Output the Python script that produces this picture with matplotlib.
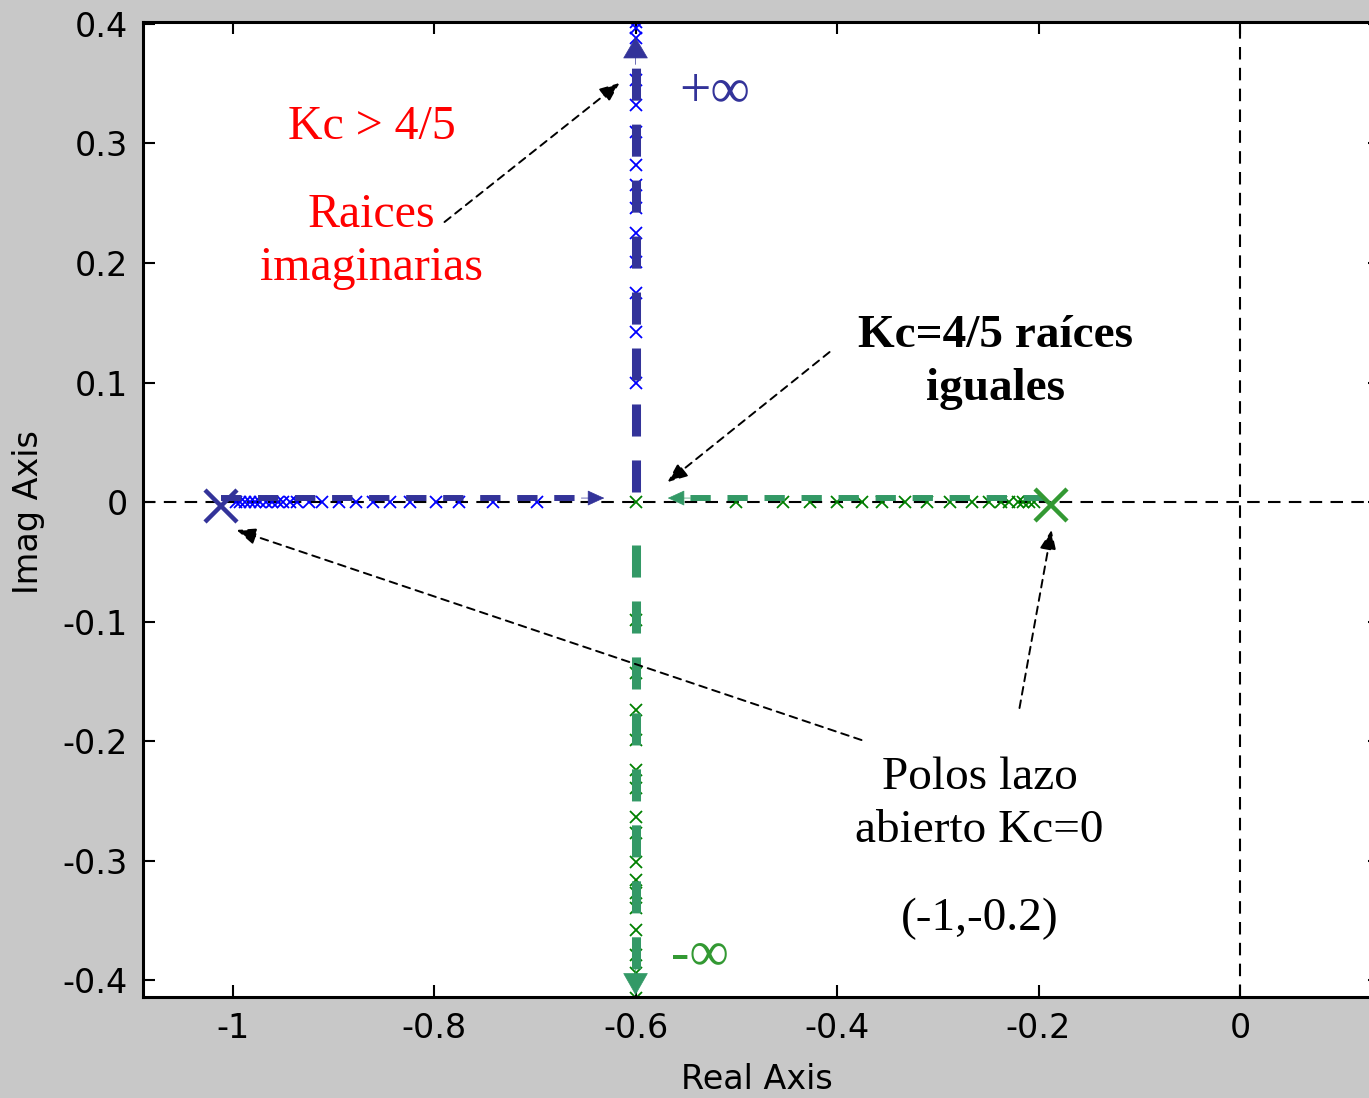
import matplotlib
matplotlib.use("Agg")
import matplotlib.pyplot as plt

# Root locus points
blue_re = [-0.997, -0.993, -0.988, -0.983, -0.978, -0.973, -0.967, -0.961, -0.955, -0.950,
           -0.943, -0.936, -0.924, -0.911, -0.894, -0.877, -0.861, -0.844, -0.824,
           -0.798, -0.775, -0.741, -0.698]
blue_im = [0.0996, 0.142, 0.175, 0.201, 0.225, 0.246, 0.265, 0.282, 0.310, 0.332,
           0.353, 0.388, 0.397, 0.402]
green_re = [-0.600, -0.500, -0.454, -0.427, -0.400, -0.375, -0.355, -0.333, -0.311,
            -0.288, -0.266, -0.249, -0.237, -0.229, -0.220, -0.215, -0.209, -0.205]
green_im = [-0.0987, -0.143, -0.174, -0.199, -0.224, -0.239, -0.264, -0.277, -0.301,
            -0.316, -0.327, -0.340, -0.358, -0.379, -0.394, -0.415]
breakaway = -0.6
poles_re = [-1.011, -0.188]
poles_im = [-0.003, -0.0025]

xticks = [-1, -0.8, -0.6, -0.4, -0.2, 0]
yticks = [-0.4, -0.3, -0.2, -0.1, 0, 0.1, 0.2, 0.3, 0.4]

navy = "#333399"
sea = "#339966"
grn = "#339933"
serif = ["Liberation Serif", "DejaVu Serif"]

fig = plt.figure(figsize=(13.69, 10.98), dpi=100, facecolor="#c8c8c8")
ax = fig.add_axes([0.1045, 0.092, 0.9036, 0.888])
ax.set_xlim(-1.0888, 0.139)
ax.set_ylim(-0.4142, 0.4017)

# dashed reference axes
ax.axhline(0, color="black", lw=1.5, dashes=(6, 4), zorder=1)
ax.axvline(0, color="black", lw=1.5, dashes=(6, 4), zorder=1)

# locus markers
mk = dict(ms=8.5, mew=1.3, zorder=2)
ax.plot(blue_re, [0] * len(blue_re), "x", color="#0000ff", **mk)
ax.plot([breakaway] * len(blue_im), blue_im, "x", color="#0000ff", **mk)
ax.plot(green_re, [0] * len(green_re), "x", color="#008000", **mk)
ax.plot([breakaway] * len(green_im), green_im, "x", color="#008000", **mk)

# thick dashed direction arrows (start, tip, colour, width, head)
arrows = [((-1.011, 0.0033), (-0.631, 0.0033), navy, 4.3, (1.1, 0.5)),
          ((-0.600, 0.008), (-0.600, 0.389), navy, 6.5, (1.45, 0.85)),
          ((-0.195, 0.0033), (-0.568, 0.0033), sea, 4.3, (1.1, 0.5)),
          ((-0.600, -0.036), (-0.600, -0.4126), sea, 6.5, (1.5, 0.85))]
for (x0, y0), (x1, y1), c, w, (hl, hw) in arrows:
    dash = (3.4, 2.8) if w < 5 else (3.55, 2.65)
    # stop the shaft a bit short of the head
    fx = x0 + (x1 - x0) * 0.96
    fy = y0 + (y1 - y0) * 0.96
    ax.plot([x0, fx], [y0, fy], color=c, lw=w, dashes=dash, solid_capstyle="butt",
            dash_capstyle="butt", zorder=3)
    bx = x1 - (x1 - x0) * 0.06
    by = y1 - (y1 - y0) * 0.06
    ax.annotate("", xy=(x1, y1), xytext=(bx, by),
                arrowprops=dict(arrowstyle=f"-|>,head_length={hl},head_width={hw}",
                                mutation_scale=10, color=c, lw=0.5, shrinkA=0, shrinkB=0),
                zorder=4)

# open-loop poles
ax.plot(poles_re[:1], poles_im[:1], "x", color=navy, ms=23, mew=3.2, zorder=5)
ax.plot(poles_re[1:], poles_im[1:], "x", color=grn, ms=23, mew=3.2, zorder=5)

# black dashed pointer arrows
pointers = [((-0.7896, 0.2343), (-0.6159, 0.3506)),
            ((-0.4074, 0.1255), (-0.5682, 0.0167)),
            ((-0.3757, -0.1992), (-0.9960, -0.0234)),
            ((-0.2189, -0.1724), (-0.1871, -0.0234))]
for start, tip in pointers:
    ax.annotate("", xy=tip, xytext=start,
                arrowprops=dict(arrowstyle="-|>,head_length=1.2,head_width=0.5",
                                mutation_scale=10, color="black", lw=1.4,
                                linestyle=(0, (4, 3)), shrinkA=0, shrinkB=0),
                zorder=6)

# annotations
ax.text(-0.862, 0.314, "Kc > 4/5", color="red", family=serif, fontsize=34.5,
        ha="center", va="center")
ax.text(-0.862, 0.218, "Raices\nimaginarias", color="red", family=serif, fontsize=34.5,
        ha="center", va="center", linespacing=1.28)
ax.text(-0.2427, 0.117, "Kc=4/5 raíces\niguales", color="black", family=serif,
        fontsize=34, fontweight="bold", ha="center", va="center", linespacing=1.35)
ax.text(-0.5216, 0.343, "+∞", color=navy, family=serif, fontsize=40,
        ha="center", va="center")
ax.text(-0.5365, -0.379, "-∞", color=grn, family=serif, fontsize=40,
        ha="center", va="center")
ax.text(-0.2586, -0.253, "Polos lazo\nabierto Kc=0", color="black", family=serif,
        fontsize=34, ha="center", va="center", linespacing=1.33)
ax.text(-0.2586, -0.349, "(-1,-0.2)", color="black", family=serif, fontsize=34,
        ha="center", va="center")

# axes styling
ax.set_xticks(xticks)
ax.set_xticklabels([f"{v:g}" for v in xticks])
ax.set_yticks(yticks)
ax.set_yticklabels([f"{v:g}" for v in yticks])
ax.tick_params(direction="in", length=8.5, width=1.5, labelsize=24, pad=11,
               top=True, right=True)
for s in ax.spines.values():
    s.set_linewidth(2.2)
ax.set_xlabel("Real Axis", fontsize=24)
ax.set_ylabel("Imag Axis", fontsize=24)
ax.xaxis.set_label_coords(0.496, -0.0677)
ax.yaxis.set_label_coords(-0.0792, 0.497)

fig.savefig("out.png", dpi=100, facecolor=fig.get_facecolor())
